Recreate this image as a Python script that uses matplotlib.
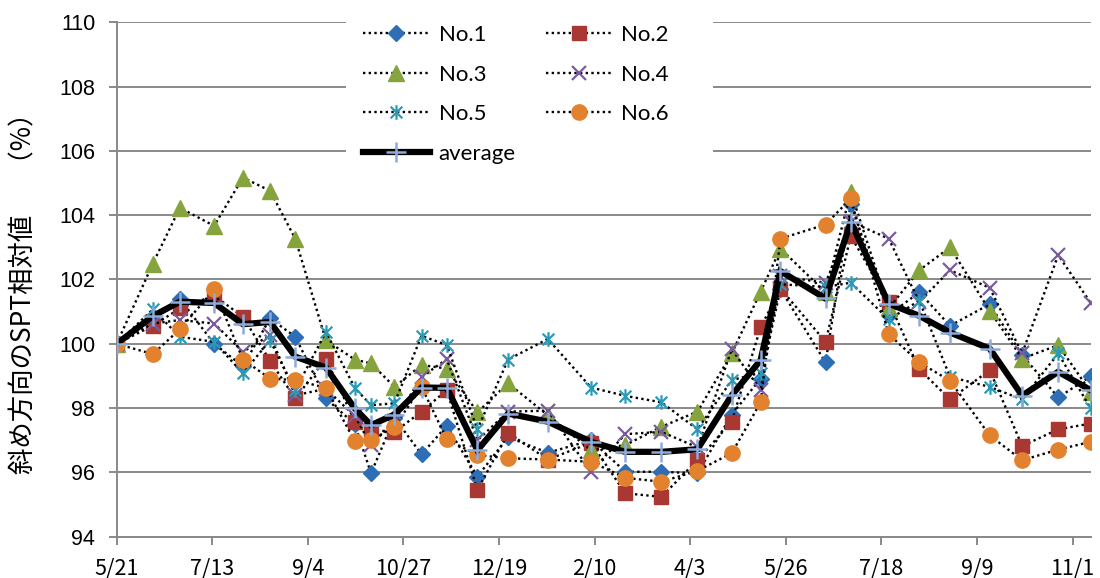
import numpy as np
import matplotlib
matplotlib.use("Agg")
import matplotlib.pyplot as plt
from matplotlib.path import Path
from matplotlib.patches import Rectangle

plt.rcParams['font.family'] = ['Noto Sans CJK JP', 'DejaVu Sans']

# measurement dates
dates = ['2011-05-21', '2011-06-10', '2011-06-25', '2011-07-14', '2011-07-30',
         '2011-08-14', '2011-08-28', '2011-09-14', '2011-09-30', '2011-10-09',
         '2011-10-22', '2011-11-06', '2011-11-20', '2011-12-07', '2011-12-24',
         '2012-01-15', '2012-02-08', '2012-02-27', '2012-03-18', '2012-04-07',
         '2012-04-26', '2012-05-12', '2012-05-23', '2012-06-17', '2012-07-01',
         '2012-07-22', '2012-08-08', '2012-08-25', '2012-09-16', '2012-10-04',
         '2012-10-24', '2012-11-11']

no1 = [100, 100.73, 101.4, 100.0, 99.3, 100.79, 100.22, 98.3, 97.5, 95.97,
       97.7, 96.56, 97.45, 95.87, 97.1, 96.61, 97.0, 96.02, 96.02, 95.97,
       97.8, 98.92, 101.7, 99.42, 104.36, 100.9, 101.6, 100.56, 101.23, 99.65,
       98.33, 98.99]
no2 = [100, 100.56, 101.1, 101.5, 100.84, 99.47, 98.3, 99.54, 97.58, 97.32,
       97.26, 97.89, 98.56, 95.45, 97.23, 96.4, 96.92, 95.35, 95.24, 96.38,
       97.58, 100.51, 101.72, 100.06, 103.35, 101.31, 99.21, 98.27, 99.18, 96.82,
       97.34, 97.52]
no3 = [100, 102.49, 104.23, 103.67, 105.17, 104.76, 103.27, 100.11, 99.51, 99.39,
       98.66, 99.34, 99.23, 97.87, 98.77, 97.78, 96.69, 96.85, 97.42, 97.89,
       99.7, 101.62, 102.96, 101.6, 104.73, 101.1, 102.29, 103.0, 101.03, 99.54,
       99.96, 98.5]
no4 = [100, 100.63, 100.74, 100.63, 99.75, 100.27, 98.4, 98.6, 97.75, 96.85,
       97.6, 98.97, 99.52, 97.0, 97.89, 97.92, 96.02, 97.19, 97.26, 96.78,
       99.83, 98.56, 102.1, 101.9, 103.8, 103.27, 101.3, 102.29, 101.74, 99.7,
       102.76, 101.27]
no5 = [100, 101.07, 100.22, 100.06, 99.08, 100.11, 98.56, 100.37, 98.63, 98.09,
       98.15, 100.25, 99.96, 97.34, 99.51, 100.15, 98.64, 98.38, 98.18, 97.34,
       98.87, 99.1, 101.85, 101.77, 101.9, 100.76, 101.34, 98.97, 98.66, 98.27,
       99.7, 97.99]
no6 = [100, 99.68, 100.45, 101.69, 99.51, 98.92, 98.87, 98.63, 96.97, 97.0,
       97.42, 98.66, 97.03, 96.54, 96.44, 96.4, 96.33, 95.83, 95.71, 96.05,
       96.6, 98.18, 103.27, 103.71, 104.52, 100.3, 99.42, 98.85, 97.15, 96.38,
       96.71, 96.95]
average = [100, 100.86, 101.31, 101.27, 100.61, 100.68, 99.6, 99.26, 97.99, 97.47,
           97.8, 98.64, 98.63, 96.69, 97.83, 97.58, 96.95, 96.64, 96.64, 96.72,
           98.4, 99.49, 102.26, 101.41, 103.79, 101.25, 100.87, 100.35, 99.85, 98.39,
           99.13, 98.56]

tick_dates = ['2011-05-21', '2011-07-13', '2011-09-04', '2011-10-27', '2011-12-19',
              '2012-02-10', '2012-04-03', '2012-05-26', '2012-07-18', '2012-09-09',
              '2012-11-01']
tick_labels = ['5/21', '7/13', '9/4', '10/27', '12/19', '2/10', '4/3', '5/26',
               '7/18', '9/9', '11/1']
y_ticks = [94, 96, 98, 100, 102, 104, 106, 108, 110]

x = np.array(dates, dtype='datetime64[D]')

# six-armed asterisk marker (vertical bar plus a cross)
star = Path([(0, -1), (0, 1), (-0.8, -0.8), (0.8, 0.8), (-0.8, 0.8), (0.8, -0.8)],
            [Path.MOVETO, Path.LINETO, Path.MOVETO, Path.LINETO, Path.MOVETO, Path.LINETO])

W, H = 1100, 578
fig = plt.figure(figsize=(W / 100, H / 100), dpi=100)
L, R, T, B = 116.7, 1090.7, 22.3, 536.7
ax = fig.add_axes([L / W, 1 - B / H, (R - L) / W, (B - T) / H])

dot = (0, (1, 1.4))
series = [
    ('No.1', no1, dict(marker='D', ms=8.4, color='#2E6EB4')),
    ('No.2', no2, dict(marker='s', ms=10.4, color='#A93832')),
    ('No.3', no3, dict(marker='^', ms=11.2, color='#86A43E')),
    ('No.4', no4, dict(marker='x', ms=10, color='#7A5C9E', mew=1.6)),
    ('No.5', no5, dict(marker=star, ms=10.5, color='#2A9BB7', mew=1.6)),
    ('No.6', no6, dict(marker='o', ms=11, color='#E3822E')),
]
handles = {}
for i, (name, vals, st) in enumerate(series):
    c = st.pop('color')
    ln, = ax.plot(x, vals, color='black', lw=1.7, ls=dot, mfc=c, mec=c,
                  label=name, zorder=2 + i * 0.1, **st)
    handles[name] = ln
avg_ln, = ax.plot(x, average, color='black', lw=4.5, marker='+', ms=14,
                  mec='#8EAADB', mew=1.8, label='average', zorder=3,
                  solid_joinstyle='miter')
handles['average'] = avg_ln

ax.set_xlim(np.datetime64('2011-05-21'), np.datetime64('2012-11-11'))
ax.set_ylim(94, 110)
ax.set_yticks(y_ticks)
ax.set_yticklabels([str(v) for v in y_ticks], family=['Liberation Sans'], fontsize=15.5)
ax.set_xticks(np.array(tick_dates, dtype='datetime64[D]'))
ax.set_xticklabels(tick_labels, fontsize=15.5)

grey = '#898989'
ax.set_axisbelow(True)
ax.yaxis.grid(True, color=grey, lw=1.4)
for s in ('top', 'right'):
    ax.spines[s].set_visible(False)
for s in ('left', 'bottom'):
    ax.spines[s].set_color(grey)
    ax.spines[s].set_linewidth(1.4)
ax.tick_params(axis='y', direction='out', length=5.5, width=1.4, color=grey, pad=10)
ax.tick_params(axis='x', direction='out', length=6, width=1.4, color=grey, pad=9)

ax.set_ylabel('斜め方向のSPT相対値\u3000  （%）', fontsize=19)
ax.yaxis.set_label_coords((37 - L) / (R - L), 0.486)

# white backdrop behind the legend
ax.add_patch(Rectangle((346 / W, 1 - 185 / H), (713 - 346) / W, (185 - 12) / H,
                       transform=fig.transFigure, facecolor='white', edgecolor='none',
                       zorder=1, clip_on=False))

order = ['No.1', 'No.3', 'No.5', 'average', 'No.2', 'No.4', 'No.6']
leg = ax.legend([handles[k] for k in order], order, ncol=2, numpoints=1,
                loc='upper left', bbox_to_anchor=(363 / W, 1 - 25 / H),
                bbox_transform=fig.transFigure, frameon=False, borderpad=0,
                borderaxespad=0, handlelength=3.0, handletextpad=0.4,
                columnspacing=1.35, labelspacing=0.88,
                prop={'family': 'Lato', 'size': 16})
leg.set_zorder(5)

fig.savefig('out.png', dpi=100)
